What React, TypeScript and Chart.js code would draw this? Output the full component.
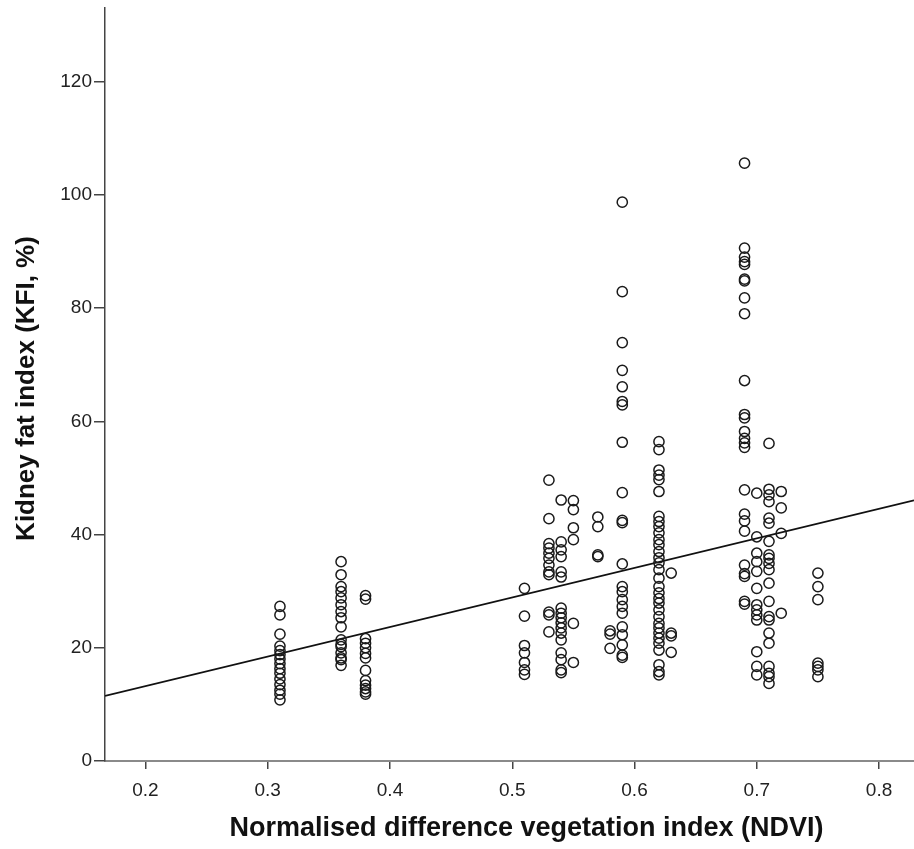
import React, { useEffect, useRef } from "react";
import { Chart, registerables } from "chart.js";

Chart.register(...registerables);

// NDVI groups (x) and kidney fat index values (y)
const ndviGroups = [0.31, 0.36, 0.38, 0.51, 0.53, 0.54, 0.55, 0.57, 0.58, 0.59, 0.62, 0.63, 0.69, 0.7, 0.71, 0.72, 0.75];

const kfi031 = [27.3, 25.8, 22.4, 20.3, 19.5, 18.8, 18.0, 17.2, 16.3, 15.5, 14.5, 13.5, 12.5, 11.8, 10.8];
const kfi036 = [35.2, 32.9, 30.8, 29.9, 28.8, 27.6, 26.4, 25.3, 23.7, 21.4, 20.6, 20.2, 19.1, 18.2, 17.9, 16.9];
const kfi038 = [29.2, 28.6, 21.6, 20.8, 20.0, 19.0, 18.2, 16.0, 14.2, 13.4, 12.8, 12.2, 11.8];
const kfi051 = [30.5, 25.6, 20.4, 19.1, 17.4, 16.1, 15.3];
const kfi053 = [49.6, 42.8, 38.4, 37.6, 36.7, 35.8, 34.6, 33.4, 32.9, 26.3, 25.8, 22.8];
const kfi054 = [46.1, 38.7, 37.3, 36.1, 33.4, 32.5, 27.0, 26.1, 25.3, 24.4, 23.5, 22.6, 21.4, 19.1, 17.9, 16.1, 15.6];
const kfi055 = [46.0, 44.4, 41.2, 39.1, 24.3, 17.4];
const kfi057 = [43.1, 41.4, 36.4, 36.1];
const kfi058 = [23.0, 22.4, 19.9];
const kfi059 = [98.7, 82.9, 73.9, 69.0, 66.1, 63.5, 62.9, 56.3, 47.4, 42.5, 42.1, 34.8, 30.8, 29.9, 28.5, 27.3, 26.1, 23.7, 22.3, 20.5, 18.7, 18.3];
const kfi062 = [56.4, 55.0, 51.4, 50.5, 49.7, 47.6, 43.2, 42.3, 41.4, 40.3, 39.1, 38.2, 37.0, 35.9, 35.0, 33.8, 32.3, 30.8, 29.7, 28.7, 27.9, 26.7, 25.5, 24.3, 23.5, 22.6, 21.7, 20.8, 19.6, 17.0, 15.8, 15.2];
const kfi063 = [33.2, 22.6, 22.1, 19.2];
const kfi069 = [105.6, 90.6, 89.0, 88.2, 87.7, 85.1, 84.8, 81.8, 79.0, 67.2, 61.2, 60.6, 58.2, 57.0, 56.2, 55.4, 47.9, 43.6, 42.4, 40.6, 34.6, 33.1, 32.6, 28.2, 27.7];
const kfi070 = [47.3, 39.6, 36.7, 35.2, 33.5, 30.5, 27.6, 26.7, 25.8, 24.9, 19.3, 16.7, 15.2];
const kfi071 = [56.1, 48.0, 47.0, 45.8, 42.9, 42.0, 38.8, 36.4, 35.8, 34.9, 33.8, 31.4, 28.2, 25.5, 24.9, 22.6, 20.8, 16.7, 15.5, 14.9, 13.7];
const kfi072 = [47.6, 44.7, 40.2, 26.1];
const kfi075 = [33.2, 30.8, 28.5, 17.3, 16.7, 16.1, 14.9];

const kfiGroups = [kfi031, kfi036, kfi038, kfi051, kfi053, kfi054, kfi055, kfi057, kfi058, kfi059, kfi062, kfi063, kfi069, kfi070, kfi071, kfi072, kfi075];

// Fitted regression line  KFI = intercept + slope * NDVI
const fitIntercept = 2.8;
const fitSlope = 52.2;

const xMin = 0.1669;
const xMax = 0.8286;
const yMin = 0;
const yMax = 133;
const yTicksStep = 20;
const xTicksStep = 0.1;

const xTitle = "Normalised difference vegetation index (NDVI)";
const yTitle = "Kidney fat index (KFI, %)";

const FONT = "'Liberation Sans', Arial, Helvetica, sans-serif";

const titlePlugin = {
  id: "axisTitlesCustom",
  afterDraw(chart: any) {
    const { ctx, chartArea } = chart;
    ctx.save();
    ctx.fillStyle = "#111";
    ctx.textAlign = "center";
    ctx.textBaseline = "middle";
    ctx.font = `bold 27px ${FONT}`;
    ctx.fillText(xTitle, (chartArea.left + chartArea.right) / 2 + 17, chart.height - 20);
    ctx.font = `bold 26px ${FONT}`;
    ctx.translate(27, (chartArea.top + chartArea.bottom) / 2 + 4);
    ctx.rotate(-Math.PI / 2);
    ctx.fillText(yTitle, 0, 0);
    ctx.restore();
  },
};

export default function App() {
  const ref = useRef<HTMLCanvasElement | null>(null);

  useEffect(() => {
    document.body.style.margin = "0";
    const points: { x: number; y: number }[] = [];
    ndviGroups.forEach((x, i) => {
      kfiGroups[i].forEach((y) => points.push({ x, y }));
    });
    const fit = [
      { x: xMin, y: fitIntercept + fitSlope * xMin },
      { x: xMax, y: fitIntercept + fitSlope * xMax },
    ];
    const chart = new Chart(ref.current!, {
      type: "scatter",
      data: {
        datasets: [
          {
            label: "KFI",
            data: points,
            pointStyle: "circle",
            pointRadius: 5.1,
            pointBorderWidth: 1.5,
            borderColor: "#1a1a1a",
            backgroundColor: "rgba(0,0,0,0)",
            pointBackgroundColor: "rgba(0,0,0,0)",
            pointBorderColor: "#1a1a1a",
          },
          {
            type: "line",
            label: "Fit",
            data: fit,
            showLine: true,
            borderColor: "#111",
            borderWidth: 1.7,
            pointRadius: 0,
            fill: false,
          } as any,
        ],
      },
      options: {
        responsive: false,
        animation: false,
        layout: { autoPadding: false, padding: { top: 8, right: 0, bottom: 0, left: 0 } },
        plugins: { legend: { display: false }, tooltip: { enabled: false } },
        scales: {
          x: {
            type: "linear",
            min: xMin,
            max: xMax,
            afterFit: (s: any) => {
              s.height = 88;
              s.paddingLeft = 0;
              s.paddingRight = 0;
            },
            border: { display: true, color: "#8a8a8a", width: 2 },
            grid: { display: true, drawOnChartArea: false, drawTicks: true, tickLength: 8, color: "#444", lineWidth: 1.5 },
            ticks: {
              stepSize: xTicksStep,
              includeBounds: false,
              padding: 10,
              color: "#222",
              font: { family: FONT, size: 19 },
              callback: (v: any) => Number(v).toFixed(1),
            },
            title: { display: false },
          },
          y: {
            type: "linear",
            min: yMin,
            max: yMax,
            afterFit: (s: any) => {
              s.width = 105;
              s.paddingTop = 0;
              s.paddingBottom = 0;
            },
            border: { display: true, color: "#444", width: 1.5 },
            grid: { display: true, drawOnChartArea: false, drawTicks: true, tickLength: 11, color: "#444", lineWidth: 1.5 },
            ticks: {
              stepSize: yTicksStep,
              includeBounds: false,
              padding: 2,
              color: "#222",
              font: { family: FONT, size: 19 },
              callback: (v: any) => String(Math.round(Number(v))),
            },
            title: { display: false },
          },
        },
      },
      plugins: [titlePlugin],
    });
    return () => chart.destroy();
  }, []);

  return (
    <div style={{ width: 914, height: 849, background: "#fff" }}>
      <canvas ref={ref} width={914} height={849} style={{ display: "block" }} />
    </div>
  );
}
